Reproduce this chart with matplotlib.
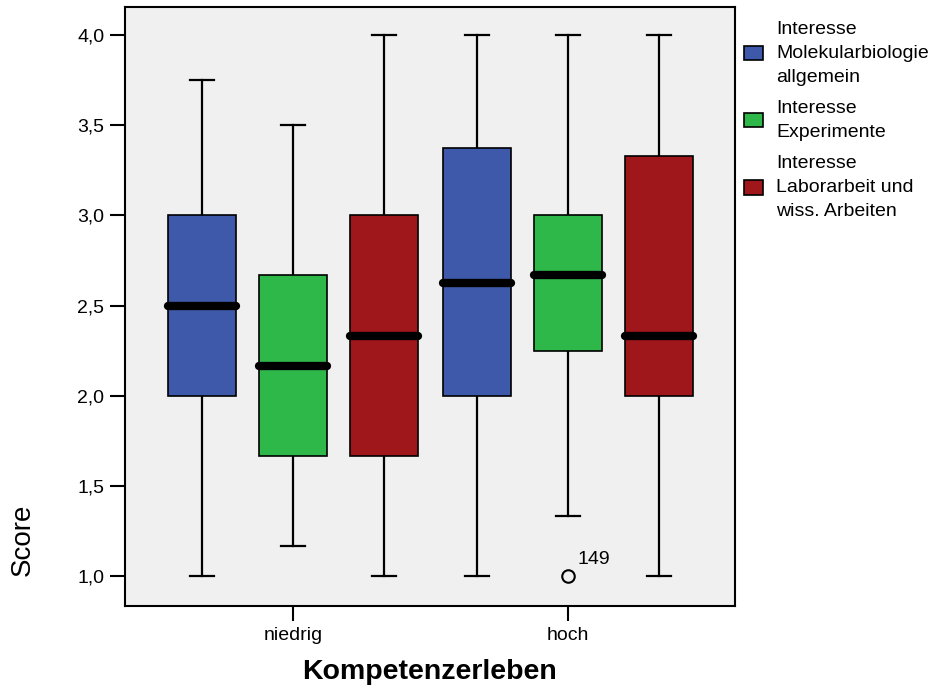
import matplotlib
matplotlib.use("Agg")
import matplotlib.pyplot as plt
from matplotlib.patches import Patch

plt.rcParams["font.family"] = ["Liberation Sans", "DejaVu Sans"]

# groups on the x axis and the three interest scales
groups = ["niedrig", "hoch"]
series = ["Interesse\nMolekularbiologie\nallgemein",
          "Interesse\nExperimente",
          "Interesse\nLaborarbeit und\nwiss. Arbeiten"]
colors = ["#3E59AA", "#2FB84A", "#A0171B"]

# box statistics, order: niedrig (blue, green, red), hoch (blue, green, red)
whislo = [1.0, 1.1667, 1.0, 1.0, 1.3333, 1.0]
q1 = [2.0, 1.6667, 1.6667, 2.0, 2.25, 2.0]
med = [2.5, 2.1667, 2.3333, 2.625, 2.6667, 2.3333]
q3 = [3.0, 2.6667, 3.0, 3.375, 3.0, 3.33]
whishi = [3.75, 3.5, 4.0, 4.0, 4.0, 4.0]
fliers = [[], [], [], [], [1.0], []]
outlier_label = "149"

yticks = [1.0, 1.5, 2.0, 2.5, 3.0, 3.5, 4.0]

fig = plt.figure(figsize=(9.36, 6.95), dpi=100)
ax = fig.add_axes([125 / 936, 1 - 606 / 695, 610 / 936, 599 / 695])
ax.set_facecolor("#F0F0F0")

offset = 0.331
width = 0.247
stats = []
positions = []
for i in range(6):
    g, s = divmod(i, 3)
    positions.append(g + (s - 1) * offset)
    stats.append(dict(whislo=whislo[i], q1=q1[i], med=med[i], q3=q3[i],
                      whishi=whishi[i], fliers=fliers[i]))

bp = ax.bxp(stats, positions=positions, widths=width, capwidths=0.087,
            patch_artist=True, showfliers=True,
            boxprops=dict(linewidth=1.2, edgecolor="black"),
            whiskerprops=dict(linewidth=1.6, color="black"),
            capprops=dict(linewidth=1.6, color="black"),
            medianprops=dict(linewidth=6, color="black", solid_capstyle="round"),
            flierprops=dict(marker="o", markersize=9, markerfacecolor="none",
                            markeredgecolor="black", markeredgewidth=1.5))
for i, box in enumerate(bp["boxes"]):
    box.set_facecolor(colors[i % 3])
for w in bp["whiskers"]:
    w.set_zorder(1)

# outlier case number
ax.annotate(outlier_label, xy=(positions[4], fliers[4][0]), xytext=(7, 9),
            textcoords="offset points", fontsize=14)

ax.set_xlim(-0.611, 1.607)
ax.set_ylim(0.834, 4.155)
ax.set_xticks([0, 1])
ax.set_xticklabels(groups)
ax.set_yticks(yticks)
ax.set_yticklabels([f"{v:.1f}".replace(".", ",") for v in yticks])
ax.tick_params(axis="both", direction="out", length=11, width=1.5,
               labelsize=14, pad=4)
for sp in ax.spines.values():
    sp.set_linewidth(1.5)

ax.set_xlabel("Kompetenzerleben", fontsize=20.5, fontweight="bold", labelpad=11)
fig.text(23 / 936, 1 - 540 / 695, "Score", rotation=90, ha="center",
         va="center", fontsize=20)

handles = [Patch(facecolor=c, edgecolor="black", linewidth=1.2) for c in colors]
leg = fig.legend(handles, series, loc="upper left",
                 bbox_to_anchor=(744 / 936, 1 - 21 / 695), frameon=False,
                 fontsize=14, handlelength=1.0, handleheight=0.75,
                 handletextpad=0.65, labelspacing=0.75, borderaxespad=0,
                 borderpad=0)
for t in leg.get_texts():
    t.set_linespacing(1.52)

fig.savefig("out.png", dpi=100)
